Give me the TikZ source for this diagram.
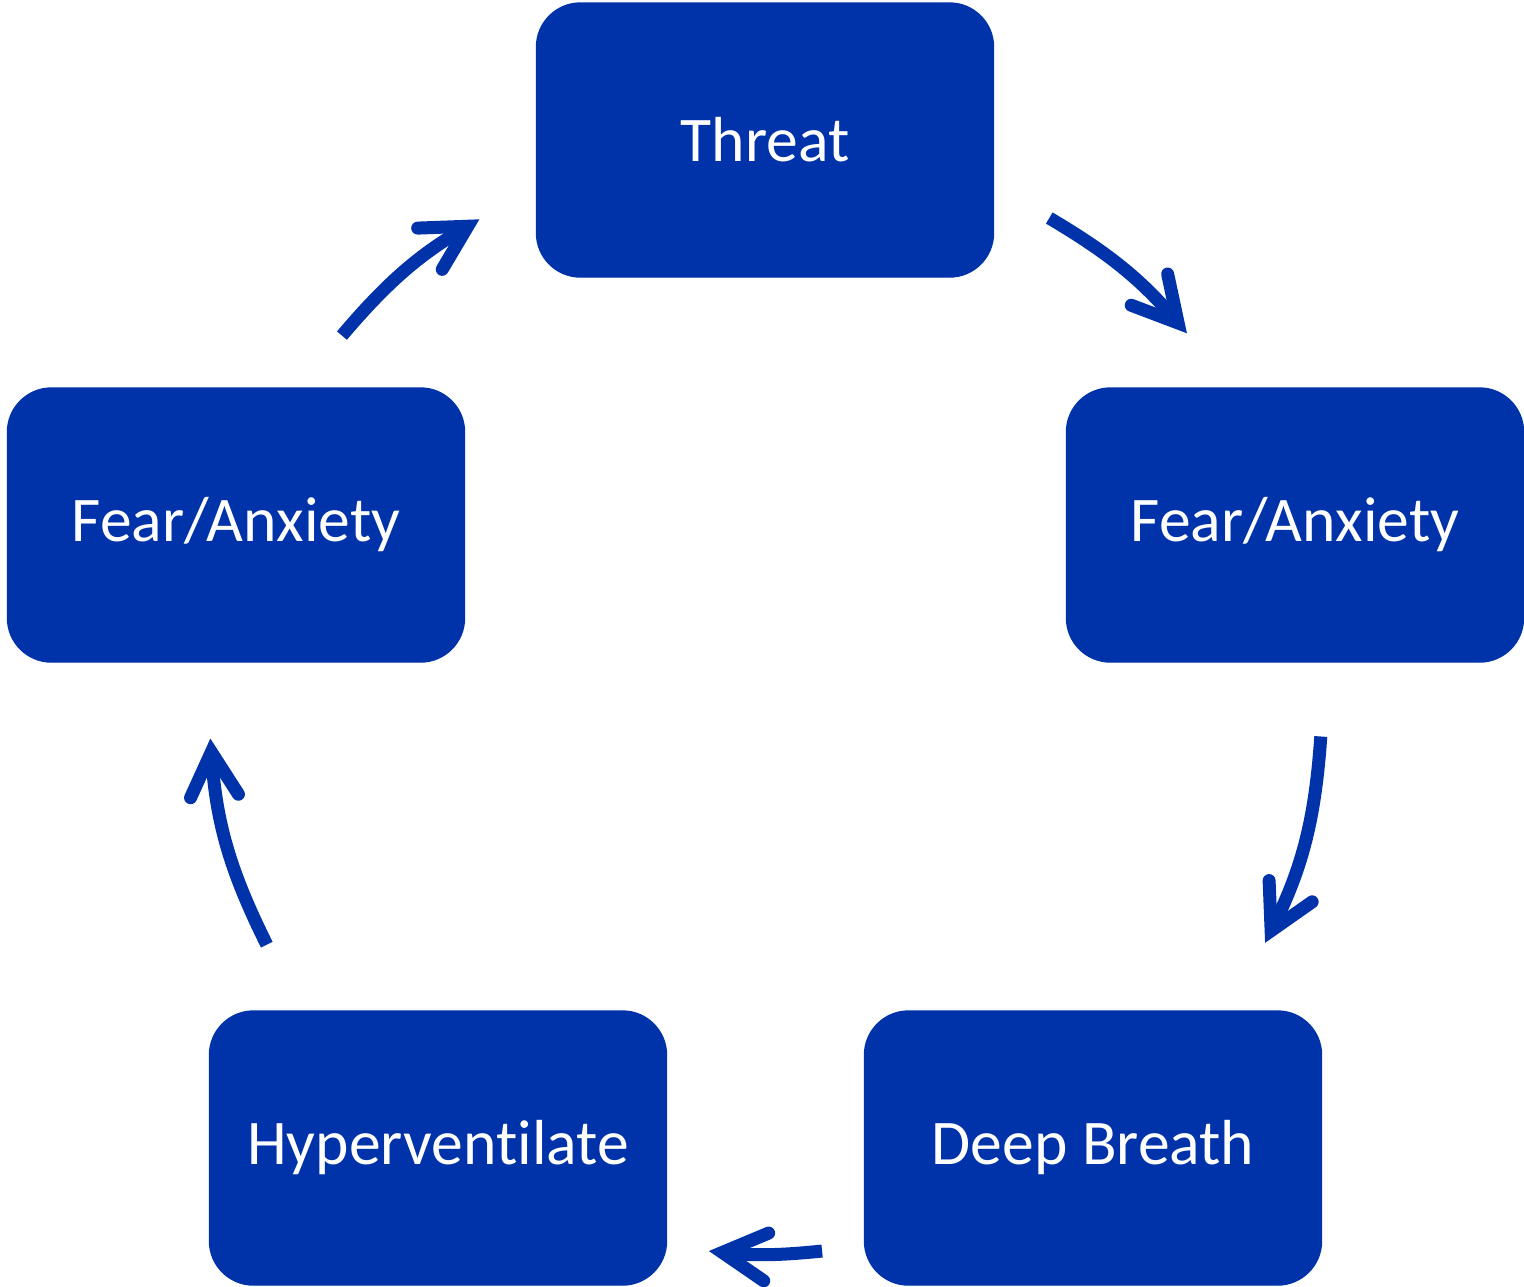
\documentclass[tikz,border=0pt]{standalone}
\usepackage{fontspec}
\setmainfont{Carlito}[Ligatures=CommonOff]
\usepackage{xcolor}
\usetikzlibrary{arrows.meta}
\definecolor{cycleblue}{HTML}{0033AA}
\tikzstyle{stagebox} = [rectangle, draw=cycleblue, fill=cycleblue, text=white,
    minimum width=4.57cm, minimum height=2.74cm, rounded corners=0.44cm,
    font=\fontsize{18.1}{22}\selectfont]
\tikzstyle{cyclearrow} = [draw=cycleblue, line width=0.13cm,
    -{Straight Barb[length=0.44cm, width=0.48cm, line cap=round, line join=miter]}]
\tikzstyle{ring} = [bend left=36, looseness=0.94]

\begin{document}
\begin{tikzpicture}
  \useasboundingbox (0,0) rectangle (15.24,-12.86);
  % Place nodes
  \node [stagebox] (threat) at (7.65,-1.40) {Threat};
  \node [stagebox] (fearR) at (12.95,-5.25) {Fear/Anxiety};
  \node [stagebox] (deep) at (10.93,-11.48) {Deep Breath};
  \node [stagebox] (hyper) at (4.38,-11.48) {Hyperventilate};
  \node [stagebox] (fearL) at (2.36,-5.25) {Fear/Anxiety};

  % Arrow ends along the ring through the node centres
  \path (threat.center) to[ring] coordinate[pos=0.425] (a1s) coordinate[pos=0.686] (a1e) (fearR.center);
  \path (fearR.center) to[ring] coordinate[pos=0.304] (a2s) coordinate[pos=0.615] (a2e) (deep.center);
  \path (deep.center) to[ring] coordinate[pos=0.418] (a3s) coordinate[pos=0.582] (a3e) (hyper.center);
  \path (hyper.center) to[ring] coordinate[pos=0.382] (a4s) coordinate[pos=0.693] (a4e) (fearL.center);
  \path (fearL.center) to[ring] coordinate[pos=0.310] (a5s) coordinate[pos=0.572] (a5e) (threat.center);

  % Draw edges
  \draw [cyclearrow] (a1s) to[bend left=9.4] (a1e);
  \draw [cyclearrow] (a2s) to[bend left=11.2] (a2e);
  \draw [cyclearrow] (a3s) to[bend left=5.9] (a3e);
  \draw [cyclearrow] (a4s) to[bend left=11.2] (a4e);
  \draw [cyclearrow] (a5s) to[bend left=9.5] (a5e);
\end{tikzpicture}
\end{document}
